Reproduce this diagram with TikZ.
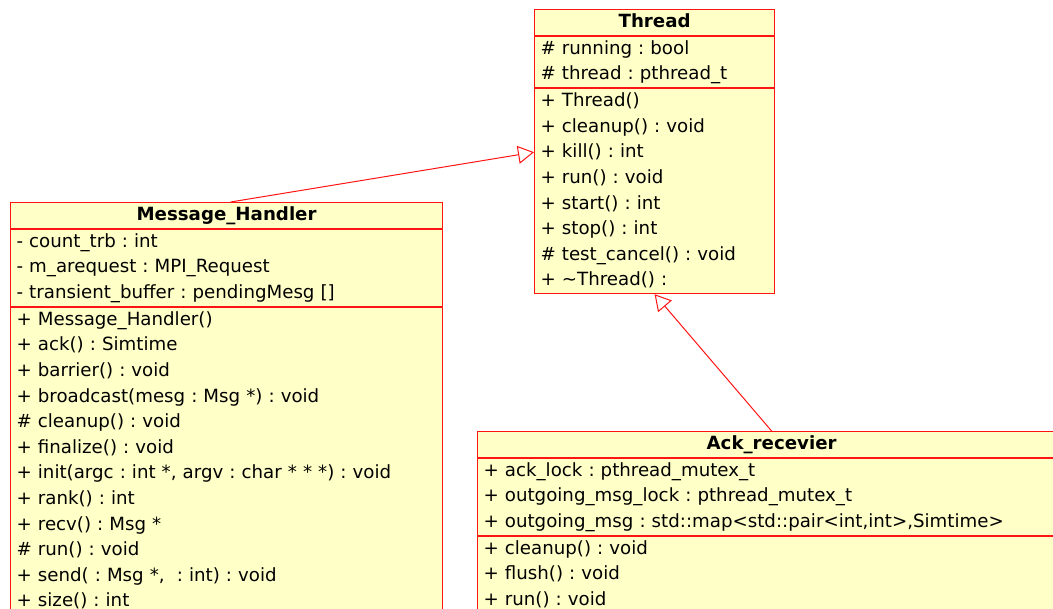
\documentclass[tikz,border=0pt]{standalone}
\usepackage{fontspec}
\setmainfont{DejaVu Sans}
\usetikzlibrary{arrows.meta,positioning}

\definecolor{umlred}{RGB}{255,20,20}
\definecolor{umlfill}{RGB}{255,255,200}
\newcommand{\umlfont}{\fontsize{18.2}{25.6}\selectfont\frenchspacing}
\newcommand{\rowstrut}{\rule[-7.6pt]{0pt}{25.6pt}}

\tikzset{
  compart/.style={draw=umlred, fill=umlfill, line width=1.2pt, anchor=north west,
    inner xsep=6pt, inner ysep=0pt, align=left, font=\umlfont,
    execute at begin node=\rowstrut, execute at end node=\rowstrut},
  classname/.style={compart, align=center, font=\umlfont\bfseries},
  generalize/.style={draw=umlred, line width=1pt, -{Triangle[open, length=16pt, width=18pt]}}
}

\begin{document}
\begin{tikzpicture}[x=1pt, y=-1pt]

	\useasboundingbox (0,0) rectangle (1053,609);
	\clip (0,0) rectangle (1053,609);

	% Thread
	\node [classname, text width=228pt] (thread-name) at (534, 9) {Thread};
	\node [compart, text width=228pt, below=0pt of thread-name] (thread-attr) {\# running : bool\\\# thread : pthread\_t};
	\node [compart, text width=228pt, below=0pt of thread-attr] (thread-ops) {+ Thread()\\+ cleanup() : void\\+ kill() : int\\+ run() : void\\+ start() : int\\+ stop() : int\\\# test\_cancel() : void\\+ \textasciitilde Thread() :};

	% Message_Handler
	\node [classname, text width=420pt] (mh-name) at (10, 202) {Message\_Handler};
	\node [compart, text width=420pt, below=0pt of mh-name] (mh-attr) {- count\_trb : int\\- m\_arequest : MPI\_Request\\- transient\_buffer : pendingMesg []};
	\node [compart, text width=420pt, below=0pt of mh-attr] (mh-ops) {+ Message\_Handler()\\+ ack() : Simtime\\+ barrier() : void\\+ broadcast(mesg : Msg *) : void\\\# cleanup() : void\\+ finalize() : void\\+ init(argc : int *, argv : char * * *) : void\\+ rank() : int\\+ recv() : Msg *\\\# run() : void\\+ send( : Msg *,\ \ : int) : void\\+ size() : int};

	% Ack_recevier
	\node [classname, text width=576pt] (ack-name) at (477, 431) {Ack\_recevier};
	\node [compart, text width=576pt, below=0pt of ack-name] (ack-attr) {+ ack\_lock : pthread\_mutex\_t\\+ outgoing\_msg\_lock : pthread\_mutex\_t\\+ outgoing\_msg : std::map<std::pair<int,int>,Simtime>};
	\node [compart, text width=576pt, below=0pt of ack-attr] (ack-ops) {+ cleanup() : void\\+ flush() : void\\+ run() : void};

	\draw [generalize] ([xshift=4pt]mh-name.north) -- ([yshift=-64pt]thread-ops.north west);
	\draw [generalize] (ack-name.north) -- (thread-ops.south);

\end{tikzpicture}
\end{document}
